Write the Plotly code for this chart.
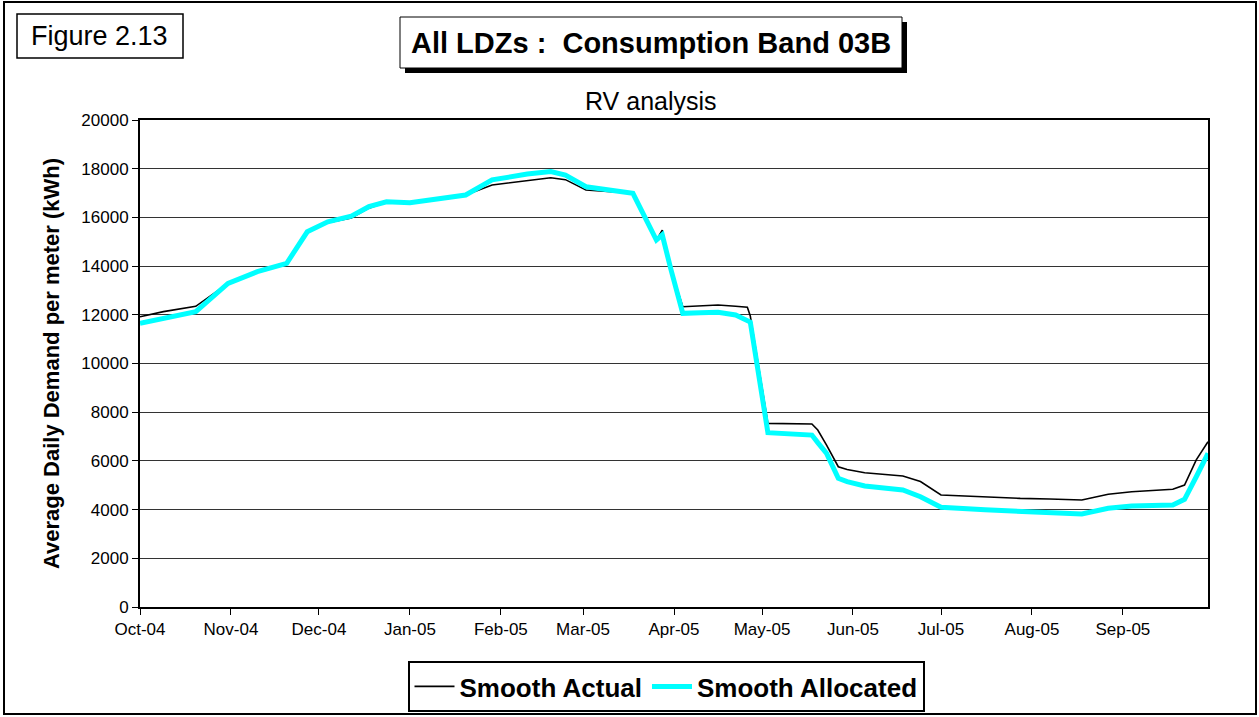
import plotly.graph_objects as go

# ---- data ----
dates = [
    "2004-10-01", "2004-10-09", "2004-10-20", "2004-10-31", "2004-11-10", "2004-11-20",
    "2004-11-27", "2004-12-04", "2004-12-12", "2004-12-18", "2004-12-24", "2005-01-01",
    "2005-01-07", "2005-01-20", "2005-01-29", "2005-02-10", "2005-02-18", "2005-02-23",
    "2005-03-02", "2005-03-18", "2005-03-26", "2005-03-28", "2005-03-31", "2005-04-04",
    "2005-04-10", "2005-04-16", "2005-04-22", "2005-04-26", "2005-04-27", "2005-05-03",
    "2005-05-18", "2005-05-20", "2005-05-23", "2005-05-27", "2005-05-30", "2005-06-05",
    "2005-06-18", "2005-06-24", "2005-07-01", "2005-07-16", "2005-07-28", "2005-08-07",
    "2005-08-18", "2005-08-27", "2005-09-04", "2005-09-18", "2005-09-22", "2005-09-26",
    "2005-09-30",
]
smooth_actual = [
    11920, 12130, 12350, 13290, 13770, 14115,
    15410, 15780, 15980, 16380, 16620, 16600,
    16700, 16920, 17330, 17500, 17630, 17550,
    17125, 16990, 15070, 15480, 13840, 12330,
    12370, 12400, 12350, 12310, 11950, 7540,
    7515, 7270, 6650, 5760, 5650, 5515,
    5380, 5150, 4600, 4505, 4460, 4435,
    4395, 4630, 4735, 4835, 5010, 6040,
    6790,
]
smooth_allocated = [
    11650, 11860, 12130, 13290, 13770, 14115,
    15410, 15820, 16050, 16440, 16640, 16600,
    16715, 16920, 17540, 17780, 17880, 17740,
    17260, 16990, 15070, 15280, 13840, 12060,
    12080, 12100, 11990, 11790, 11700, 7160,
    7060, 6750, 6310, 5285, 5150, 4970,
    4805, 4530, 4095, 3990, 3930, 3850,
    3820, 4055, 4150, 4190, 4420, 5350,
    6310,
]
month_ticks = [
    "2004-10-01", "2004-11-01", "2004-12-01", "2005-01-01", "2005-02-01", "2005-03-01",
    "2005-04-01", "2005-05-01", "2005-06-01", "2005-07-01", "2005-08-01", "2005-09-01",
]
month_labels = [
    "Oct-04", "Nov-04", "Dec-04", "Jan-05", "Feb-05", "Mar-05",
    "Apr-05", "May-05", "Jun-05", "Jul-05", "Aug-05", "Sep-05",
]

W, H = 1259, 717
L, R, T, B = 140, 1208, 120, 607
FONT = "Arial, Liberation Sans, sans-serif"


def px(x):
    return (x - L) / (R - L)


def py(y):
    return (B - y) / (B - T)


fig = go.Figure()
fig.add_trace(go.Scatter(x=dates, y=smooth_actual, mode="lines", name="Smooth Actual",
                         line=dict(color="black", width=1.6)))
fig.add_trace(go.Scatter(x=dates, y=smooth_allocated, mode="lines", name="Smooth Allocated",
                         line=dict(color="#00FFFF", width=5)))

shapes = [
    # outer border
    dict(type="rect", xref="paper", yref="paper", x0=px(4), x1=px(1256), y0=py(2), y1=py(714),
         line=dict(color="black", width=2), layer="below"),
    # figure label box
    dict(type="rect", xref="paper", yref="paper", x0=px(17), x1=px(183), y0=py(14), y1=py(58),
         line=dict(color="black", width=1.5)),
    # title shadow
    dict(type="rect", xref="paper", yref="paper", x0=px(405), x1=px(907), y0=py(22), y1=py(73),
         line=dict(width=0), fillcolor="black"),
    # title box
    dict(type="rect", xref="paper", yref="paper", x0=px(400), x1=px(902), y0=py(17), y1=py(68),
         line=dict(color="black", width=1), fillcolor="white"),
]

annotations = [
    dict(text="Figure 2.13", x=px(99), y=py(36), xref="paper", yref="paper",
         xanchor="center", yanchor="middle",
         showarrow=False, font=dict(family=FONT, size=27, color="black")),
    dict(text="<b>All LDZs :  Consumption Band 03B</b>", x=px(651), y=py(43), xref="paper",
         yref="paper", xanchor="center", yanchor="middle",
         showarrow=False, font=dict(family=FONT, size=29, color="black")),
    dict(text="RV analysis", x=px(651), y=py(101), xref="paper", yref="paper",
         xanchor="center", yanchor="middle",
         showarrow=False, font=dict(family=FONT, size=25, color="black")),
]

fig.update_layout(
    width=W, height=H,
    margin=dict(l=L, r=W - R, t=T, b=H - B, autoexpand=False),
    paper_bgcolor="white", plot_bgcolor="white",
    font=dict(family=FONT, color="black", size=17),
    shapes=shapes, annotations=annotations,
    showlegend=True,
    legend=dict(orientation="h", x=px(666), xanchor="center", y=py(712), yanchor="bottom",
                bordercolor="black", borderwidth=2, bgcolor="white",
                font=dict(family=FONT, size=26, color="black", weight="bold"),
                itemwidth=40, tracegroupgap=0),
    xaxis=dict(type="date", range=["2004-10-01", "2005-09-30"],
               tickvals=month_ticks, ticktext=month_labels,
               ticks="outside", ticklen=6, tickcolor="black", tickwidth=1,
               showgrid=False, showline=True, linecolor="black", linewidth=2, mirror=True,
               tickfont=dict(family=FONT, size=17), zeroline=False),
    yaxis=dict(range=[0, 20000], dtick=2000, tickformat="d",
               ticks="outside", ticklen=6, tickcolor="black", tickwidth=1,
               showgrid=True, gridcolor="#333333", gridwidth=1,
               showline=True, linecolor="black", linewidth=2, mirror=True,
               tickfont=dict(family=FONT, size=17), zeroline=False,
               title=dict(text="<b>Average Daily Demand per meter (kWh)</b>",
                          font=dict(family=FONT, size=22), standoff=16)),
)

fig.write_html("out.html", config={"displayModeBar": False},
               post_script="document.body.style.margin='0';document.body.style.padding='0';")
